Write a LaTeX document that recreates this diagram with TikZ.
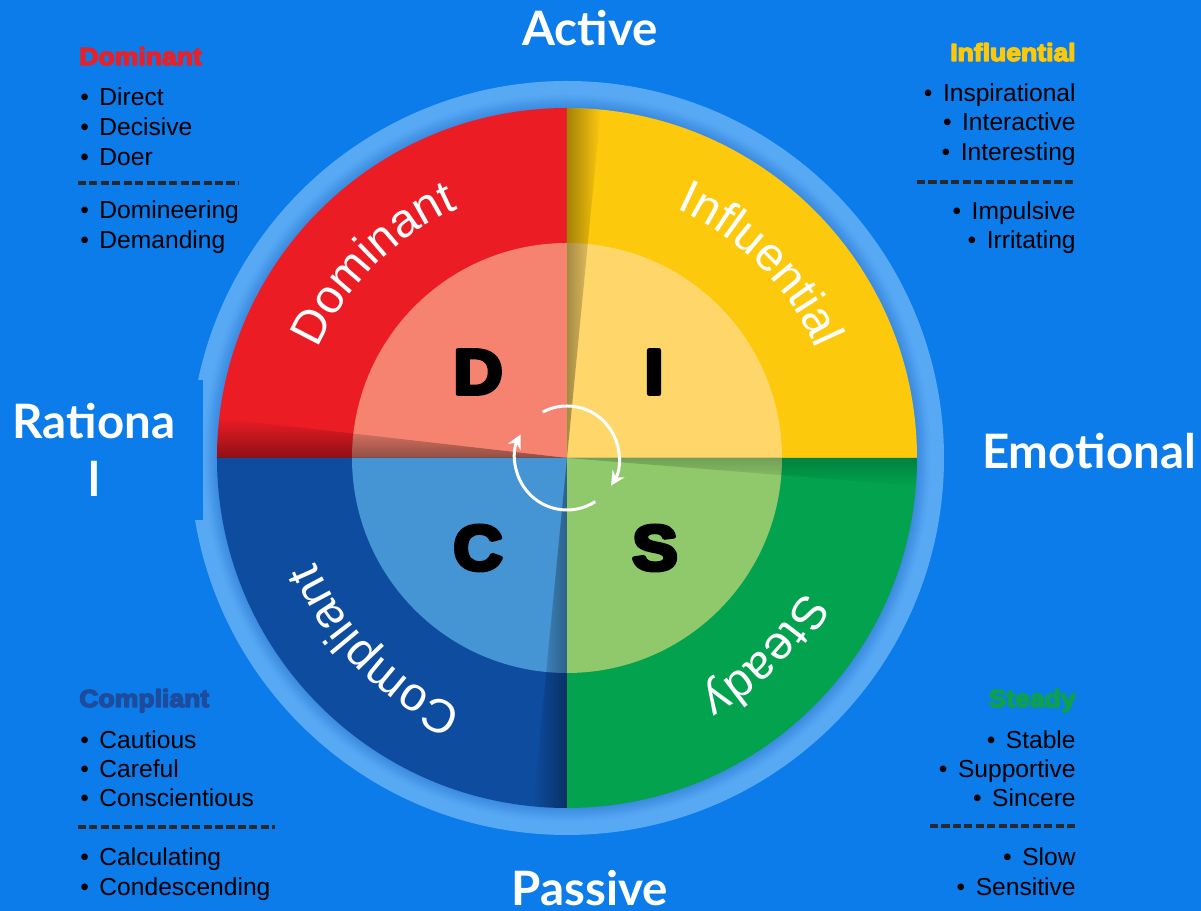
\documentclass[tikz,border=0pt]{standalone}
\usepackage{fontspec}
\usepackage{tikz}
\usetikzlibrary{arrows.meta, decorations.text, fadings}

\setmainfont{Liberation Sans}
\newfontfamily\titlefont{Lato}
\newfontfamily\arcfont{Liberation Sans}
\newfontfamily\headfont[FakeStretch=1.08]{Liberation Sans Bold}

\definecolor{bgblue}{HTML}{0B7CEA}
\definecolor{ringlt}{HTML}{58A9F4}
\definecolor{ringdk}{HTML}{3A8AE0}
\definecolor{dred}{HTML}{EC1C24}
\definecolor{lred}{HTML}{F68370}
\definecolor{dyel}{HTML}{FDC90D}
\definecolor{lyel}{HTML}{FED66A}
\definecolor{dgrn}{HTML}{02A24E}
\definecolor{lgrn}{HTML}{8FC96C}
\definecolor{dblu}{HTML}{0E4C9F}
\definecolor{lblu}{HTML}{4594D3}
\definecolor{hdred}{HTML}{E52229}
\definecolor{hdyel}{HTML}{FBC80C}
\definecolor{hdblu}{HTML}{1D4C9C}
\definecolor{hdgrn}{HTML}{0FA04E}
\definecolor{sepgray}{HTML}{262A30}

\newcommand\bul{\textbullet\hspace{6pt}}
% heavy type: glyphs filled and stroked (text render mode 2)
\newcommand\heavy[2]{\special{pdf:literal direct #1 w 1 j 2 Tr}#2\special{pdf:literal direct 0 Tr}}

\begin{document}
\begin{tikzpicture}[
    x=0.02cm, y=0.02cm,
    axislabel/.style={font=\titlefont\bfseries\fontsize{27}{33}\selectfont, text=white, inner sep=0pt},
    headtext/.style={font=\headfont\fontsize{14}{16}\selectfont, inner sep=0pt},
    traittext/.style={font=\fontsize{14}{16}\selectfont, text=black, inner sep=0pt},
    discletter/.style={font=\headfont\fontsize{36}{40}\selectfont, text=black, inner sep=0pt},
    divider/.style={draw=sepgray, line width=1.9pt, dash pattern=on 4.6pt off 1.9pt},
    cyclearrow/.style={draw=white, line width=1.7pt, -{Stealth[length=8pt, width=8pt]}},
    arclabel/.style={decorate, decoration={text along path, text align=center,
        text={|\arcfont\fontsize{27}{30}\selectfont\color{white}|#1}}}
]
    \useasboundingbox (-567,-453) rectangle (634,458);
    \fill[bgblue] (-567,-453) rectangle (634,458);

    % outer ring, lighter outside and darker towards the wheel
    \foreach \r [evaluate=\r as \p using {int(min(100,(\r-350)*7))}] in {377,376,...,351}
        \fill[ringlt!\p!ringdk] (0,0) circle (\r);

    % quadrants: outer band and inner disc
    \foreach \a/\outer/\inner in {90/dred/lred, 0/dyel/lyel, -90/dgrn/lgrn, 180/dblu/lblu} {
        \fill[\outer] (0,0) -- (\a:350) arc[start angle=\a, end angle=\a+90, radius=350] -- cycle;
        \fill[\inner] (0,0) -- (\a:215) arc[start angle=\a, end angle=\a+90, radius=215] -- cycle;
    }

    % shadows along the dividers
    \begin{scope}
        \clip (0,0) circle (350);
        \fill[black, fill opacity=0.4, path fading=north] (0,0) -- (-350,0) -- (-350,40) -- cycle;
        \fill[black, fill opacity=0.35, path fading=east] (0,0) -- (0,350) -- (34,350) -- cycle;
        \fill[black, fill opacity=0.2, path fading=south] (0,0) -- (350,0) -- (350,-28) -- cycle;
        \fill[black, fill opacity=0.35, path fading=west] (0,0) -- (0,-350) -- (-34,-350) -- cycle;
    \end{scope}

    % curved quadrant names
    \path[arclabel=Dominant] (180:272) arc[start angle=180, end angle=90, radius=272];
    \path[arclabel=Influential] (90:272) arc[start angle=90, end angle=0, radius=272];
    \path[arclabel=Steady] (0:272) arc[start angle=0, end angle=-90, radius=272];
    \path[arclabel=Compliant] (-90:272) arc[start angle=-90, end angle=-180, radius=272];

    % D I S C
    \node[discletter] (dletter) at (-89,86) {\heavy{2.4}{D}};
    \node[discletter] (iletter) at (87,86) {\heavy{2.4}{I}};
    \node[discletter] (cletter) at (-89,-90) {\heavy{2.4}{C}};
    \node[discletter] (sletter) at (88,-90) {\heavy{2.4}{S}};

    % cycle arrows in the middle
    \draw[cyclearrow] (118:52) arc[start angle=118, end angle=-32, radius=52];
    \draw[cyclearrow] (-57:52) arc[start angle=-57, end angle=-207, radius=52];

    % axis labels
    \node[axislabel] (active) at (23,430) {Active};
    \node[axislabel] (passive) at (23,-430) {Passive};
    \node[axislabel] (emotional) at (522,7) {Emotional};
    \node[axislabel, fill=bgblue, align=center, minimum width=4.36cm, minimum height=2.8cm]
        (rational) at (-473,8) {Rationa\\l};

    % Dominant traits
    \node[headtext, text=hdred, anchor=base west] (domhead) at (-488,393) {\heavy{0.8}{Dominant}};
    \foreach \t/\y [count=\i] in {Direct/352.5, Decisive/322.5, Doer/292.5, Domineering/239.5, Demanding/209.5}
        \node[traittext, anchor=base west] (dom\i) at (-487,\y) {\bul\t};
    \draw[divider] (-489,275) -- (-329,275);

    % Influential traits
    \node[headtext, text=hdyel, anchor=base east] (infhead) at (509,397) {\heavy{0.8}{Influential}};
    \foreach \t/\y [count=\i] in {Inspirational/356.5, Interactive/327.5, Interesting/297.5, Impulsive/238.5, Irritating/209.5}
        \node[traittext, anchor=base east] (inf\i) at (509,\y) {\bul\t};
    \draw[divider] (350,276) -- (506,276);

    % Compliant traits
    \node[headtext, text=hdblu, anchor=base west] (comhead) at (-488,-249) {\heavy{0.8}{Compliant}};
    \foreach \t/\y [count=\i] in {Cautious/-290.5, Careful/-319.5, Conscientious/-348.5, Calculating/-407.5, Condescending/-437.5}
        \node[traittext, anchor=base west] (com\i) at (-487,\y) {\bul\t};
    \draw[divider] (-489,-369) -- (-292,-369);

    % Steady traits
    \node[headtext, text=hdgrn, anchor=base east] (stehead) at (509,-249) {\heavy{0.8}{Steady}};
    \foreach \t/\y [count=\i] in {Stable/-290.5, Supportive/-319.5, Sincere/-348.5, Slow/-407.5, Sensitive/-437.5}
        \node[traittext, anchor=base east] (ste\i) at (509,\y) {\bul\t};
    \draw[divider] (363,-368) -- (509,-368);
\end{tikzpicture}
\end{document}
